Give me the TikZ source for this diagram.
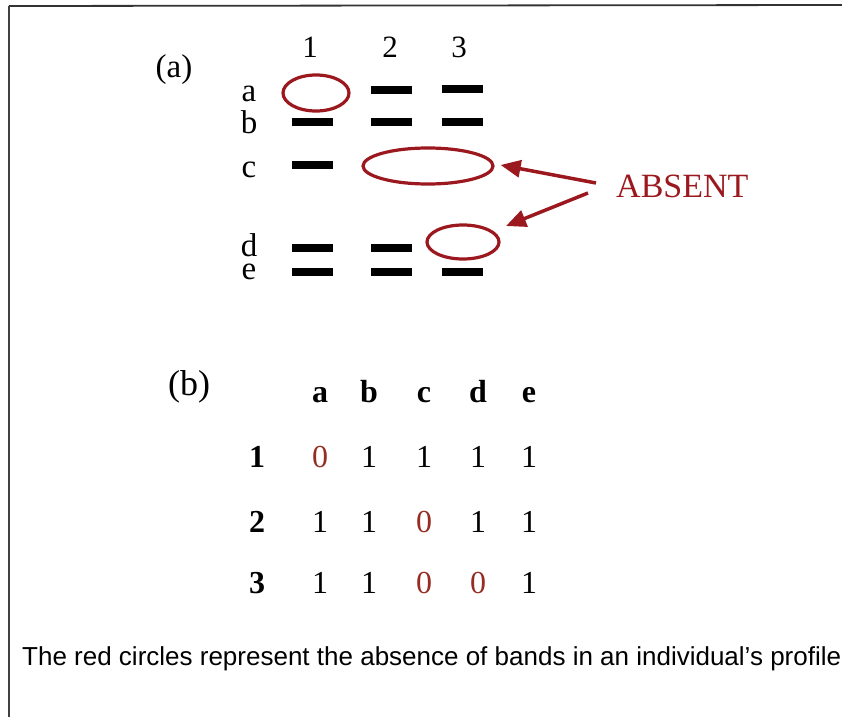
\documentclass[tikz,border=0pt]{standalone}
\usepackage{fontspec}
\setmainfont{Liberation Serif}
\newfontfamily\capfont{Liberation Sans}
\usetikzlibrary{shapes.geometric,arrows.meta}
\definecolor{absred}{RGB}{155,25,30}
\definecolor{zerored}{RGB}{150,45,35}
\tikzset{
  band/.style={fill=black,draw=none,minimum width=41pt,minimum height=8pt,inner sep=0pt},
  ring/.style={ellipse,draw=absred,line width=3.2pt,inner sep=0pt},
  lbl/.style={font=\fontsize{33}{33}\selectfont,anchor=base,inner sep=0pt},
  colnum/.style={font=\fontsize{31}{31}\selectfont,anchor=base,inner sep=0pt},
  tab/.style={font=\fontsize{32}{32}\selectfont,anchor=base,inner sep=0pt},
  tabb/.style={font=\fontsize{32}{32}\selectfont\bfseries,anchor=base,inner sep=0pt},
  zero/.style={tab,text=zerored},
  absarrow/.style={draw=absred,line width=3.5pt,-{Triangle[length=20pt,width=17pt]}},
}
\begin{document}
\begin{tikzpicture}[x=1pt,y=-1pt]
\useasboundingbox (0,0) rectangle (842,717);
% frame
\draw[line width=1.8pt,black!80] (9,6) coordinate (fa) -- (842,5) coordinate (fb);
\draw[line width=1.5pt,black!75] (9,6) coordinate (fc) -- (9,717) coordinate (fd);
% (a)
\node[lbl] (pa) at (174,77) {(a)};
\node[colnum] (c1) at (310,58) {1};
\node[colnum] (c2) at (390,58) {2};
\node[colnum] (c3) at (459,58) {3};
\node[lbl] (la) at (249,101) {a};
\node[lbl] (lb) at (249,133) {b};
\node[lbl] (lc) at (249,177) {c};
\node[lbl] (ld) at (249,256) {d};
\node[lbl] (le) at (249,279) {e};
% bands
\node[band] (a2) at (391,90) {};
\node[band] (a3) at (462,89) {};
\node[band] (b1) at (312,122) {};
\node[band] (b2) at (391,122) {};
\node[band] (b3) at (462,122) {};
\node[band] (c1b) at (312,165) {};
\node[band] (d1) at (312,248) {};
\node[band] (d2) at (391,248) {};
\node[band] (e1) at (312,272) {};
\node[band] (e2b) at (391,272) {};
\node[band] (e3) at (462,272) {};
% rings
\node[ring,minimum width=66pt,minimum height=36pt] (r1) at (316,93) {};
\node[ring,minimum width=130pt,minimum height=36pt] (r2) at (428,166) {};
\node[ring,minimum width=72pt,minimum height=34pt] (r3) at (463,242) {};
% ABSENT
\node[font=\fontsize{34}{34}\selectfont,text=absred,anchor=base west,inner sep=0pt] (abs) at (616,197) {ABSENT};
\coordinate (s1) at (596,183);
\coordinate (s2) at (588,193);
\coordinate (t2) at (506,226);
\draw[absarrow] (s1) -- ([xshift=6pt,yshift=1pt]r2.east);
\draw[absarrow] (s2) -- (t2);
% (b)
\node[font=\fontsize{36}{36}\selectfont,anchor=base,inner sep=0pt] (pb) at (189,395) {(b)};
\node[tabb] (ha) at (320,402) {a};
\node[tabb] (hb) at (369,402) {b};
\node[tabb] (hc) at (424,402) {c};
\node[tabb] (hd) at (478,402) {d};
\node[tabb] (he) at (529,402) {e};
\node[tabb] (r1l) at (257,467) {1};
\node[tabb] (r2l) at (257,532) {2};
\node[tabb] (r3l) at (257,593) {3};
% row 1
\node[zero] (v11) at (320,467) {0};
\node[tab] (v12) at (369,467) {1};
\node[tab] (v13) at (424,467) {1};
\node[tab] (v14) at (478,467) {1};
\node[tab] (v15) at (529,467) {1};
% row 2
\node[tab] (v21) at (320,532) {1};
\node[tab] (v22) at (369,532) {1};
\node[zero] (v23) at (424,532) {0};
\node[tab] (v24) at (478,532) {1};
\node[tab] (v25) at (529,532) {1};
% row 3
\node[tab] (v31) at (320,593) {1};
\node[tab] (v32) at (369,593) {1};
\node[zero] (v33) at (424,593) {0};
\node[zero] (v34) at (478,593) {0};
\node[tab] (v35) at (529,593) {1};
% caption
\node[font=\capfont\fontsize{26}{26}\selectfont,anchor=base west,inner sep=0pt] (cap) at (22,665) {The red circles represent the absence of bands in an individual’s profile};
\end{tikzpicture}
\end{document}
